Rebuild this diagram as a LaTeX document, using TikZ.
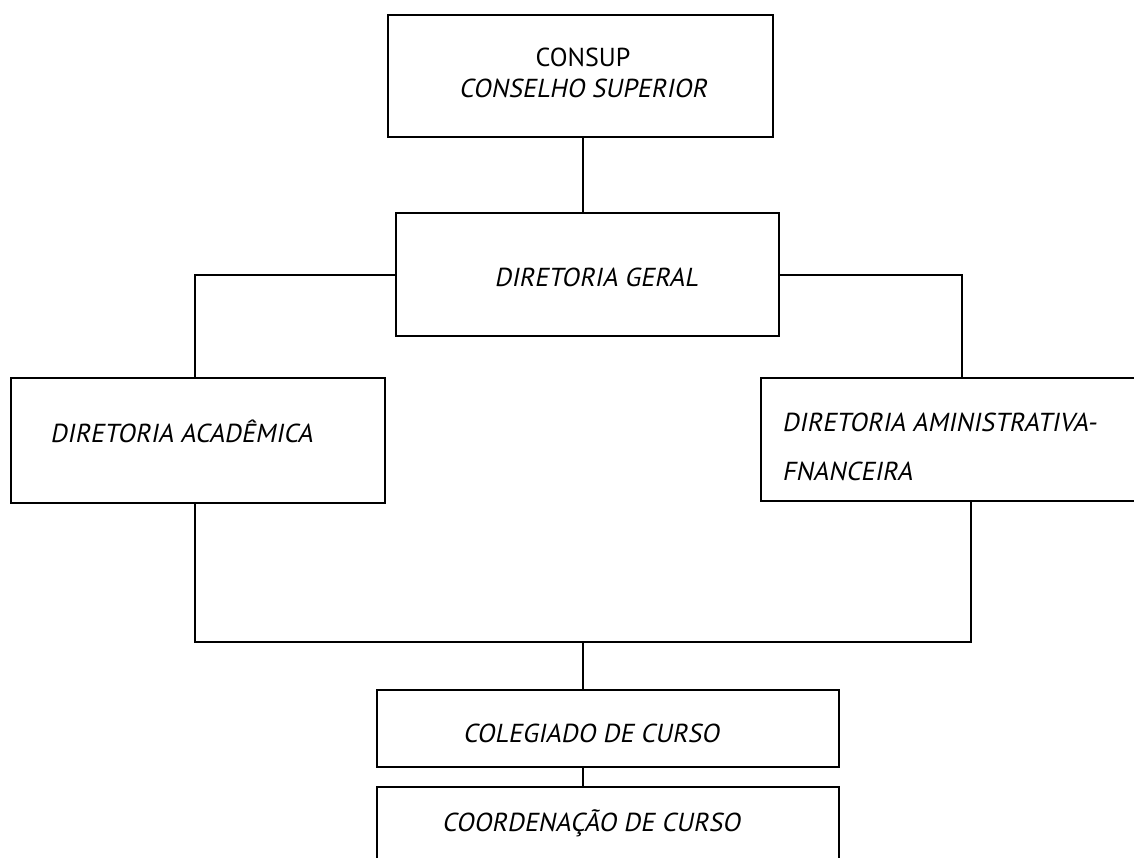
\documentclass[tikz,border=0pt]{standalone}
\usepackage{fontspec}
\setmainfont{PT Sans}
\newfontfamily\itf{PT Sans}[FakeSlant=0.2]
\begin{document}
\begin{tikzpicture}[x=1pt,y=-1pt,
  box/.style={draw, line width=2pt, inner sep=0pt},
  lbl/.style={inner sep=0pt, font=\fontsize{26}{31}\selectfont\itf},
  wire/.style={line width=2pt}]
\useasboundingbox (0,0) rectangle (1134,857);
\clip (0,0) rectangle (1134,857);
% boxes
\node[box, minimum width=385pt, minimum height=122pt] (consup) at (580.5,76) {};
\node[box, minimum width=383pt, minimum height=123pt] (dg) at (587.5,274.5) {};
\node[box, minimum width=374pt, minimum height=125pt] (acad) at (198,440.5) {};
\node[box, minimum width=400pt, minimum height=123pt] (adm) at (961,439.5) {};
\node[box, minimum width=462pt, minimum height=77pt] (coleg) at (608,728.5) {};
\node[box, minimum width=462pt, minimum height=100pt] (coord) at (608,837) {};
% texts
\node[lbl, align=center] (tconsup) at (583,73) {{\fontspec{PT Sans}CONSUP}\\CONSELHO SUPERIOR};
\node[lbl] (tdg) at (596,277) {DIRETORIA GERAL};
\node[lbl, anchor=west] (tacad) at (50,431) {DIRETORIA ACADÊMICA};
\node[lbl, anchor=west, align=left, font=\fontsize{26}{49}\selectfont\itf] (tadm) at (782,447) {DIRETORIA AMINISTRATIVA-\\FNANCEIRA};
\node[lbl] (tcoleg) at (591,733) {COLEGIADO DE CURSO};
\node[lbl] (tcoord) at (591,823) {COORDENAÇÃO DE CURSO};
% junction coordinates
\coordinate (xmid) at (583,0);
\coordinate (xl) at (195,0);
\coordinate (xr) at (962,0);
\coordinate (xr2) at (971,0);
\coordinate (ybus) at (0,642);
% connectors
\draw[wire] (consup.south -| xmid) -- (dg.north -| xmid);
\draw[wire] (dg.west) -- (dg.west -| xl) -- (acad.north -| xl);
\draw[wire] (dg.east) -- (dg.east -| xr) -- (adm.north -| xr);
\draw[wire] (acad.south -| xl) -- (ybus -| xl) -- (ybus -| xr2) -- (adm.south -| xr2);
\draw[wire] (ybus -| xmid) -- (coleg.north -| xmid);
\draw[wire] (coleg.south -| xmid) -- (coord.north -| xmid);
\end{tikzpicture}
\end{document}
